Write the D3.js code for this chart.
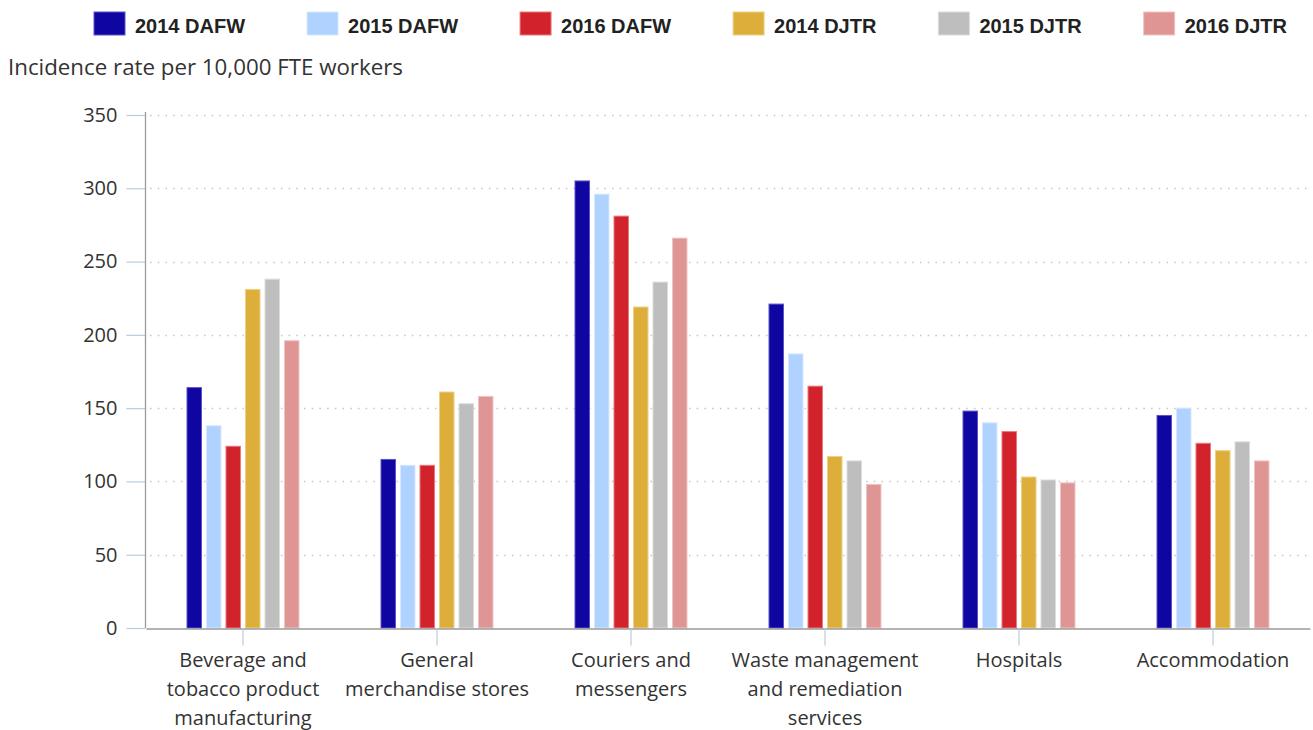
<!DOCTYPE html>
<html>
<head>
<meta charset="utf-8">
<script src="https://cdn.jsdelivr.net/npm/d3@7"></script>
<style>
  html, body { margin: 0; padding: 0; background: #fff; }
  svg { display: block; }
</style>
</head>
<body>
<div id="chart"></div>
<script>
// ---------- DATA ----------
const categories = [
  "Beverage and tobacco product manufacturing",
  "General merchandise stores",
  "Couriers and messengers",
  "Waste management and remediation services",
  "Hospitals",
  "Accommodation"
];
const categoryLabelLines = [
  ["Beverage and", "tobacco product", "manufacturing"],
  ["General", "merchandise stores"],
  ["Couriers and", "messengers"],
  ["Waste management", "and remediation", "services"],
  ["Hospitals"],
  ["Accommodation"]
];
const seriesNames = ["2014 DAFW", "2015 DAFW", "2016 DAFW", "2014 DJTR", "2015 DJTR", "2016 DJTR"];
const values2014DAFW = [164, 115, 305, 221, 148, 145];
const values2015DAFW = [138, 111, 296, 187, 140, 150];
const values2016DAFW = [124, 111, 281, 165, 134, 126];
const values2014DJTR = [231, 161, 219, 117, 103, 121];
const values2015DJTR = [238, 153, 236, 114, 101, 127];
const values2016DJTR = [196, 158, 266, 98, 99, 114];
const yTicks = [0, 50, 100, 150, 200, 250, 300, 350];
const yAxisTitle = "Incidence rate per 10,000 FTE workers";
const seriesColors = ["#0f05a1", "#b0d2fe", "#d2222b", "#ddaf3a", "#bebebe", "#e09595"];
const seriesStrokes = ["#5a54c9", "#d6e8ff", "#e87a7e", "#edd08a", "#dcdcdc", "#efc3c3"];

const seriesValues = [values2014DAFW, values2015DAFW, values2016DAFW, values2014DJTR, values2015DJTR, values2016DJTR];
const table = categories.map((c, i) => ({
  category: c,
  values: seriesNames.map((s, j) => ({ series: s, value: seriesValues[j][i] }))
}));

// ---------- LAYOUT ----------
const W = 1313, H = 730;
const plot = { left: 146, right: 1310, top: 115, bottom: 628 };
const svg = d3.select("#chart").append("svg").attr("width", W).attr("height", H);
const textFont = "'Open Sans', 'Noto Sans', sans-serif";

const x0 = d3.scaleBand().domain(categories).range([plot.left, plot.right]).padding(0);
const x1 = d3.scaleBand().domain(seriesNames).range([-56, 56]).paddingInner(0.256).paddingOuter(0);
const y = d3.scaleLinear().domain([0, 350]).range([plot.bottom, plot.top]);
const color = d3.scaleOrdinal().domain(seriesNames).range(seriesColors);
const strokeColor = d3.scaleOrdinal().domain(seriesNames).range(seriesStrokes);

// gridlines
svg.append("g").selectAll("line").data(yTicks.filter(t => t > 0)).join("line")
  .attr("x1", plot.left + 4).attr("x2", plot.right)
  .attr("y1", d => Math.round(y(d)) + 0.5).attr("y2", d => Math.round(y(d)) + 0.5)
  .attr("stroke", "#c8c8c8").attr("stroke-width", 1.6)
  .attr("stroke-dasharray", "1.6,6.1");

// y axis
const yAxis = d3.axisLeft(y).tickValues(yTicks).tickSize(19).tickSizeOuter(0).tickPadding(9).tickFormat(d3.format("d"));
const gy = svg.append("g").attr("transform", `translate(${plot.left - 0.5},0)`).call(yAxis);
gy.select(".domain").remove();
gy.selectAll(".tick line").attr("stroke", "#b9cbe0").attr("stroke-width", 1.2);
gy.selectAll(".tick text").attr("font-family", textFont).attr("font-size", "20px").attr("fill", "#333");
svg.append("line").attr("x1", plot.left - 0.5).attr("x2", plot.left - 0.5)
  .attr("y1", plot.top - 3).attr("y2", plot.bottom).attr("stroke", "#9a9a9a").attr("stroke-width", 1.3);

// bars
const groups = svg.append("g").selectAll("g").data(table).join("g")
  .attr("transform", d => `translate(${x0(d.category) + x0.bandwidth() / 2},0)`);
groups.selectAll("rect").data(d => d.values).join("rect")
  .attr("x", d => x1(d.series))
  .attr("width", x1.bandwidth())
  .attr("y", d => y(d.value))
  .attr("height", d => y(0) - y(d.value))
  .attr("fill", d => color(d.series))
  .attr("stroke", d => strokeColor(d.series))
  .attr("stroke-width", 1);

// x axis
const xAxis = d3.axisBottom(x0).tickSize(17).tickSizeOuter(0).tickFormat("");
const gx = svg.append("g").attr("transform", `translate(0,${plot.bottom + 0.5})`).call(xAxis);
gx.select(".domain").attr("stroke", "#9a9a9a").attr("stroke-width", 1.3);
gx.selectAll(".tick line").attr("stroke", "#b9cbe0").attr("stroke-width", 1.2);

// category labels
const labelG = svg.append("g").selectAll("text").data(categories).join("text")
  .attr("text-anchor", "middle")
  .attr("font-family", textFont).attr("font-size", "20px").attr("fill", "#333")
  .attr("transform", d => `translate(${x0(d) + x0.bandwidth() / 2},${plot.bottom + 39})`);
labelG.each(function(d, i) {
  d3.select(this).selectAll("tspan").data(categoryLabelLines[i]).join("tspan")
    .attr("x", 0).attr("y", (l, k) => k * 29).text(l => l);
});

// y axis title
svg.append("text").attr("x", 8).attr("y", 75)
  .attr("font-family", textFont).attr("font-size", "22.3px").attr("fill", "#333")
  .text(yAxisTitle);

// legend
const legend = svg.append("g");
let lx = 94;
seriesNames.forEach((s, i) => {
  const g = legend.append("g").attr("transform", `translate(${lx},0)`);
  g.append("rect").attr("x", 0).attr("y", 12).attr("width", 31).attr("height", 23)
    .attr("fill", color(s)).attr("stroke", strokeColor(s)).attr("stroke-width", 1);
  const t = g.append("text").attr("x", 41).attr("y", 33)
    .attr("font-family", "'Liberation Sans', Arial, sans-serif").attr("font-weight", "bold")
    .attr("font-size", "20px").attr("fill", "#222").text(s);
  const tw = t.node().getComputedTextLength();
  lx += 41 + tw + 62;
});
</script>
</body>
</html>
